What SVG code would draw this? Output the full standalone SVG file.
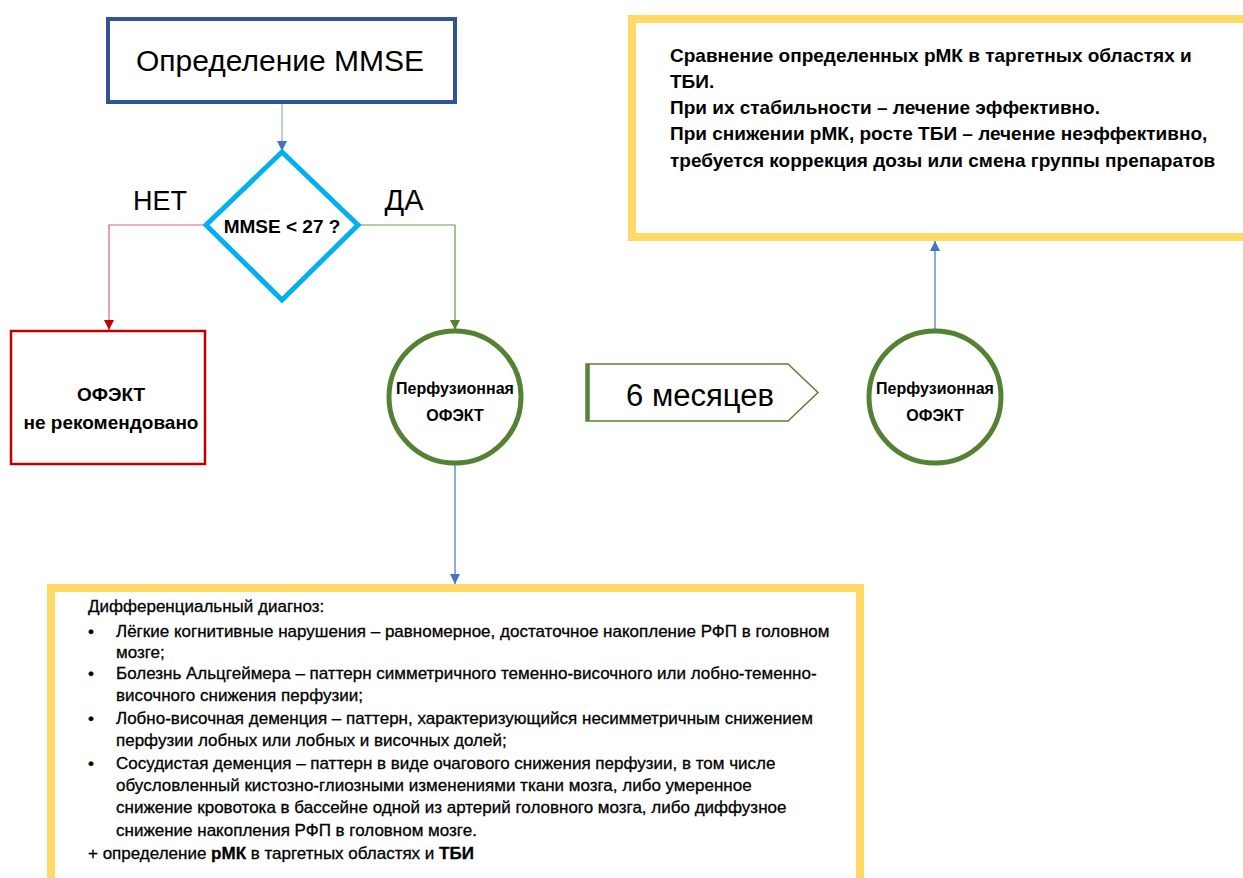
<svg xmlns="http://www.w3.org/2000/svg" width="1243" height="878" viewBox="0 0 1243 878">
<defs>
<style>
text{font-family:"Liberation Sans","DejaVu Sans",sans-serif;fill:#000}
.c{text-anchor:middle}
.b{font-weight:bold}
.tr{font-size:19px}
.dd{font-size:17px;stroke:#000;stroke-width:0.3}
.yel{fill:#fff;stroke:#FFD966;stroke-width:8}
.circ{fill:#fff;stroke:#548235;stroke-width:5}
</style>
<marker id="ab" viewBox="0 0 10 10" refX="10" refY="5" markerWidth="10" markerHeight="10" markerUnits="userSpaceOnUse" orient="auto"><path d="M0,0 L10,5 L0,10 Z" fill="#4472C4"/></marker>
<marker id="ar" viewBox="0 0 10 10" refX="10" refY="5" markerWidth="10" markerHeight="10" markerUnits="userSpaceOnUse" orient="auto"><path d="M0,0 L10,5 L0,10 Z" fill="#C00000"/></marker>
<marker id="ag" viewBox="0 0 10 10" refX="10" refY="5" markerWidth="10" markerHeight="10" markerUnits="userSpaceOnUse" orient="auto"><path d="M0,0 L10,5 L0,10 Z" fill="#548235"/></marker>
</defs>
<rect width="1243" height="878" fill="#fff"/>

<g id="connectors" fill="none" stroke-width="1.2">
<path d="M282,104 V151" stroke="#8FAADC" marker-end="url(#ab)"/>
<path d="M206,225 H109 V330" stroke="#E06666" marker-end="url(#ar)"/>
<path d="M358,225 H455 V330" stroke="#6A9A4A" marker-end="url(#ag)"/>
<path d="M455,465 V584" stroke="#4472C4" marker-end="url(#ab)"/>
<path d="M935,330 V241" stroke="#4472C4" marker-end="url(#ab)"/>
</g>

<g id="mmse">
<rect x="108" y="19" width="347" height="83" fill="#fff" stroke="#2F5597" stroke-width="4"/>
<text x="280" y="71" class="c" font-size="30">Определение MMSE</text>
</g>

<g id="decision">
<polygon points="282,152 358,225 282,300 206,225" fill="#fff" stroke="#00B0F0" stroke-width="5"/>
<text x="282" y="233" class="c b" font-size="19">MMSE &lt; 27 ?</text>
</g>

<g id="label-net"><text x="160" y="210" class="c" font-size="27">НЕТ</text></g>
<g id="label-da"><text x="404" y="210" class="c" font-size="29">ДА</text></g>

<g id="no-spect">
<rect x="11" y="331" width="194" height="133" fill="#fff" stroke="#C00000" stroke-width="2.5"/>
<text x="111" y="401" class="c b" font-size="19">ОФЭКТ</text>
<text x="111" y="429" class="c b" font-size="19">не рекомендовано</text>
</g>

<g id="spect1">
<circle cx="455" cy="397" r="66" class="circ"/>
<text x="455" y="394" class="c b" font-size="16">Перфузионная</text>
<text x="455" y="421" class="c b" font-size="16">ОФЭКТ</text>
</g>

<g id="months">
<polygon points="586,364 788,364 818,392.5 788,421 586,421" fill="#fff" stroke="#548235" stroke-width="1.5"/>
<line x1="588" y1="364" x2="588" y2="421" stroke="#548235" stroke-width="3.5"/>
<text x="700" y="406" class="c" font-size="31">6 месяцев</text>
</g>

<g id="spect2">
<circle cx="935" cy="397" r="66" class="circ"/>
<text x="935" y="394" class="c b" font-size="16">Перфузионная</text>
<text x="935" y="421" class="c b" font-size="16">ОФЭКТ</text>
</g>

<g id="result">
<rect x="632" y="19" width="700" height="218" class="yel"/>
<text class="tr b" x="670">
<tspan x="670" y="62">Сравнение определенных рМК в таргетных областях и</tspan>
<tspan x="670" y="88">ТБИ.</tspan>
<tspan x="670" y="114">При их стабильности – лечение эффективно.</tspan>
<tspan x="670" y="140">При снижении рМК, росте ТБИ – лечение неэффективно,</tspan>
<tspan x="670" y="167">требуется коррекция дозы или смена группы препаратов</tspan>
</text>
</g>

<g id="diff">
<rect x="51" y="588" width="809" height="400" class="yel"/>
<g class="dd">
<text x="88" y="612">Дифференциальный диагноз:</text>
<text x="88" y="637">•</text><text x="116" y="637">Лёгкие когнитивные нарушения – равномерное, достаточное накопление РФП в головном</text>
<text x="116" y="658">мозге;</text>
<text x="88" y="679">•</text><text x="116" y="679">Болезнь Альцгеймера – паттерн симметричного теменно-височного или лобно-теменно-</text>
<text x="116" y="701">височного снижения перфузии;</text>
<text x="88" y="724">•</text><text x="116" y="724">Лобно-височная деменция – паттерн, характеризующийся несимметричным снижением</text>
<text x="116" y="746">перфузии лобных или лобных и височных долей;</text>
<text x="88" y="769">•</text><text x="116" y="769">Сосудистая деменция – паттерн в виде очагового снижения перфузии, в том числе</text>
<text x="116" y="791">обусловленный кистозно-глиозными изменениями ткани мозга, либо умеренное</text>
<text x="116" y="813">снижение кровотока в бассейне одной из артерий головного мозга, либо диффузное</text>
<text x="116" y="836">снижение накопления РФП в головном мозге.</text>
<text x="88" y="859">+ определение <tspan class="b">рМК</tspan> в таргетных областях и <tspan class="b">ТБИ</tspan></text>
</g>
</g>
</svg>
